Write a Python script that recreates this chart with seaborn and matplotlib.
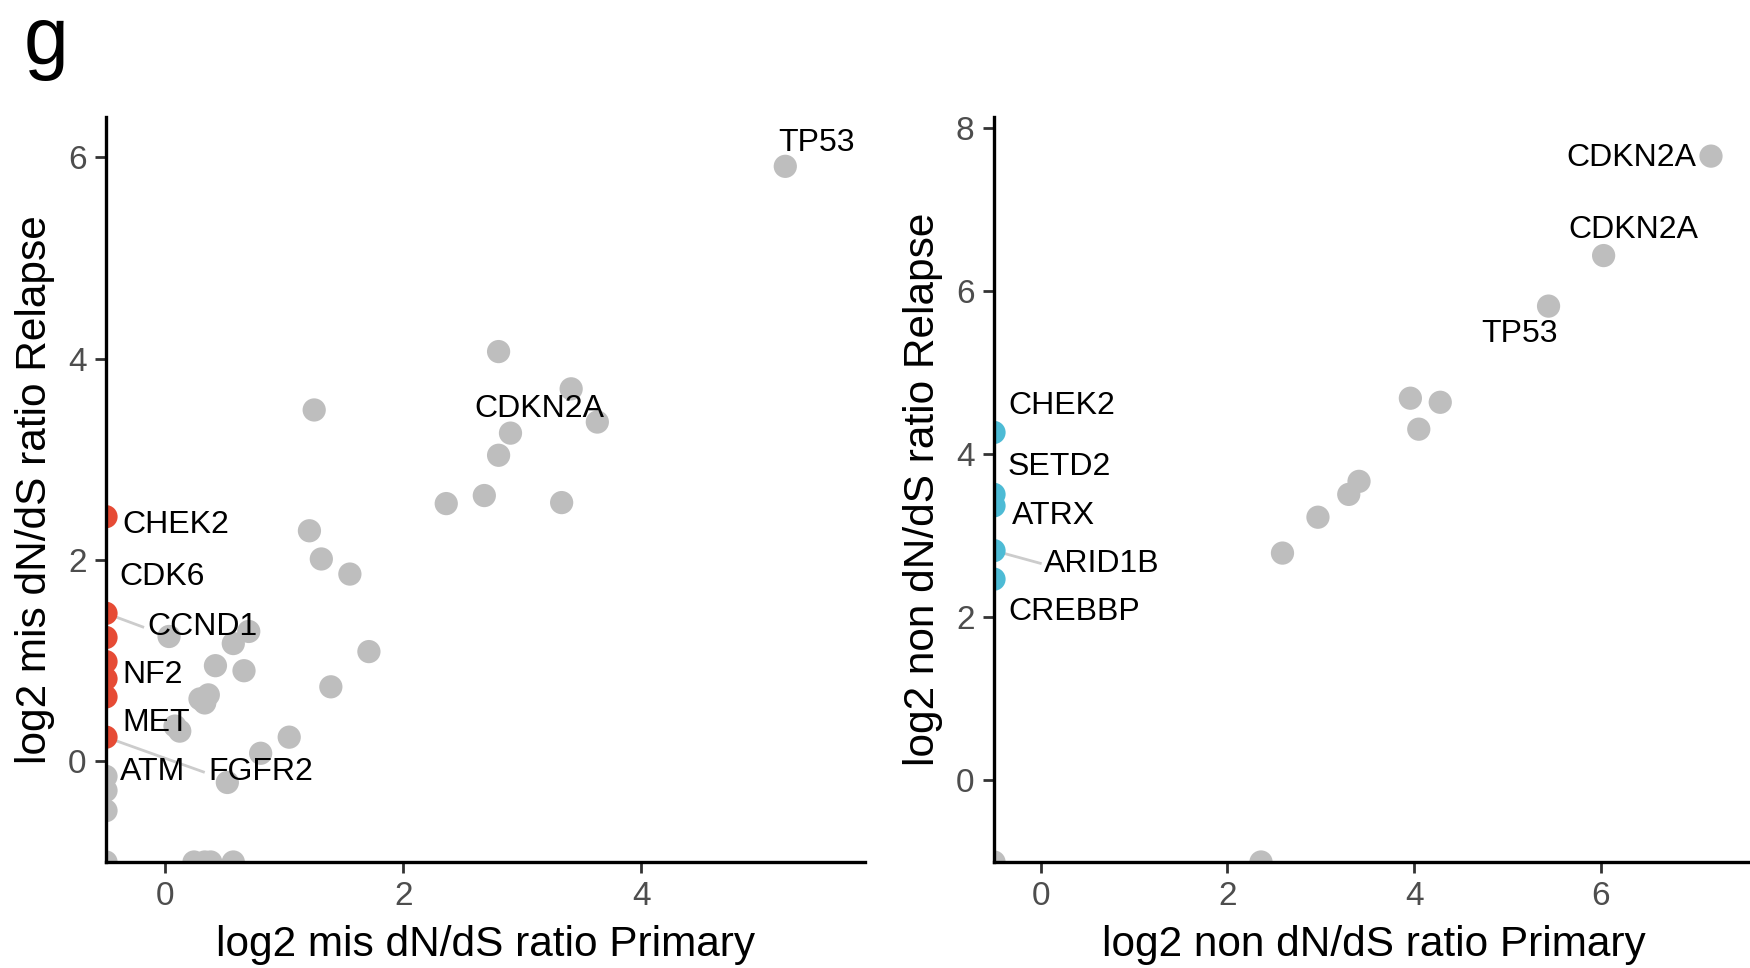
import numpy as np
import pandas as pd
import matplotlib
matplotlib.use("Agg")
import matplotlib.pyplot as plt
import seaborn as sns

# ---- missense dN/dS (log2): primary vs relapse ----
mis_gene = ["TP53", "", "CDKN2A", "", "", "", "", "", "", "",
            "", "", "", "", "", "", "", "", "", "",
            "", "", "", "", "", "", "", "", "", "",
            "", "", "", "", "", "",
            "CHEK2", "CCND1", "CDK6", "NF2", "MET", "ATM", "FGFR2"]
mis_primary = [5.21, 2.80, 3.41, 3.63, 2.90, 2.80, 2.36, 2.68, 3.33, 1.25,
               1.21, 1.31, 1.55, 1.71, 1.39, 1.04, 0.80, 0.52, 0.03, 0.57,
               0.70, 0.42, 0.66, 0.29, 0.36, 0.33, 0.08, 0.12, -0.50, -0.50,
               -0.50, -0.50, 0.24, 0.33, 0.38, 0.57,
               -0.50, -0.50, -0.50, -0.50, -0.50, -0.50, -0.50]
mis_relapse = [5.91, 4.07, 3.70, 3.37, 3.26, 3.04, 2.56, 2.64, 2.57, 3.49,
               2.29, 2.01, 1.86, 1.09, 0.74, 0.24, 0.08, -0.21, 1.24, 1.17,
               1.29, 0.95, 0.90, 0.62, 0.66, 0.58, 0.35, 0.30, -0.15, -0.29,
               -0.49, -1.00, -1.00, -1.00, -1.00, -1.00,
               2.43, 1.47, 1.23, 0.99, 0.82, 0.64, 0.24]
mis_group = ["ns"] * 36 + ["relapse"] * 7

# ---- nonsense dN/dS (log2): primary vs relapse ----
non_gene = ["CDKN2A", "CDKN2A", "TP53", "", "", "", "", "", "", "", "", "",
            "CHEK2", "SETD2", "ATRX", "ARID1B", "CREBBP"]
non_primary = [7.18, 6.03, 5.44, 3.96, 4.28, 4.05, 3.41, 3.30, 2.97, 2.59, 2.36, -0.50,
               -0.50, -0.50, -0.50, -0.50, -0.50]
non_relapse = [7.66, 6.44, 5.82, 4.69, 4.64, 4.31, 3.67, 3.51, 3.23, 2.79, -1.00, -1.00,
               4.27, 3.51, 3.37, 2.82, 2.47]
non_group = ["ns"] * 12 + ["relapse"] * 5

# label placement: point index -> (dx, dy, draw connector)
mis_labels = {0: (-0.06, 0.23, False), 2: (-0.81, -0.20, False),
              36: (0.14, -0.08, False), 37: (0.35, -0.14, True),
              38: (0.115, 0.60, False), 39: (0.14, -0.13, False),
              40: (0.14, -0.44, False), 41: (0.115, -0.75, False),
              42: (0.86, -0.35, True)}
non_labels = {0: (-1.55, -0.02, False), 1: (-0.38, 0.31, False),
              2: (-0.72, -0.34, False), 12: (0.15, 0.33, False),
              13: (0.15, 0.33, False), 14: (0.19, -0.12, False),
              15: (0.54, -0.16, True), 16: (0.15, -0.40, False)}

sns.set_theme(style="ticks")
plt.rcParams["font.family"] = ["Liberation Sans", "DejaVu Sans"]

GREY = "#BEBEBE"
fig = plt.figure(figsize=(17.5, 9.68), dpi=100)

panels = [
    dict(df=pd.DataFrame({"gene": mis_gene, "x": mis_primary, "y": mis_relapse, "g": mis_group}),
         hl="#E64B35", labels=mis_labels, pos=[106/1750, 106/968, 759/1750, 745/968],
         xlim=(-0.5, 5.88), ylim=(-1.0, 6.40), xticks=[0, 2, 4], yticks=[0, 2, 4, 6],
         xlabel="log2 mis dN/dS ratio Primary", ylabel="log2 mis dN/dS ratio Relapse"),
    dict(df=pd.DataFrame({"gene": non_gene, "x": non_primary, "y": non_relapse, "g": non_group}),
         hl="#4DBBD5", labels=non_labels, pos=[994/1750, 106/968, 759/1750, 745/968],
         xlim=(-0.5, 7.63), ylim=(-1.0, 8.14), xticks=[0, 2, 4, 6], yticks=[0, 2, 4, 6, 8],
         xlabel="log2 non dN/dS ratio Primary", ylabel="log2 non dN/dS ratio Relapse"),
]

for p in panels:
    ax = fig.add_axes(p["pos"])
    df = p["df"]
    # connectors go underneath the points
    for i, (dx, dy, conn) in p["labels"].items():
        if conn:
            x0, y0 = df.loc[i, "x"], df.loc[i, "y"]
            ax.plot([x0, x0 + dx - 0.03], [y0, y0 + dy], color="#CCCCCC", lw=2, zorder=1,
                    solid_capstyle="butt")
    sns.scatterplot(data=df, x="x", y="y", hue="g", hue_order=["ns", "relapse"],
                    palette={"ns": GREY, "relapse": p["hl"]}, s=280, linewidth=0,
                    alpha=1, legend=False, ax=ax, zorder=2)
    for i, (dx, dy, conn) in p["labels"].items():
        ax.text(df.loc[i, "x"] + dx, df.loc[i, "y"] + dy, df.loc[i, "gene"],
                ha="left", va="center", fontsize=23, color="black", zorder=3)
    ax.set_xlim(*p["xlim"])
    ax.set_ylim(*p["ylim"])
    ax.set_xticks(p["xticks"])
    ax.set_yticks(p["yticks"])
    ax.set_xlabel(p["xlabel"], fontsize=30.5, color="black", labelpad=9)
    ax.set_ylabel(p["ylabel"], fontsize=30.5, color="black", labelpad=9)
    ax.tick_params(axis="both", labelsize=24, labelcolor="#4D4D4D", length=8,
                   width=2, color="#333333", pad=6)
    sns.despine(ax=ax)
    for s in ("left", "bottom"):
        ax.spines[s].set_linewidth(2.4)
        ax.spines[s].set_color("black")
    ax.set_facecolor("white")

fig.text(24/1750, 1 - 64/968, "g", fontsize=58, ha="left", va="baseline", color="black")
fig.savefig("out.png", dpi=100, facecolor="white")
